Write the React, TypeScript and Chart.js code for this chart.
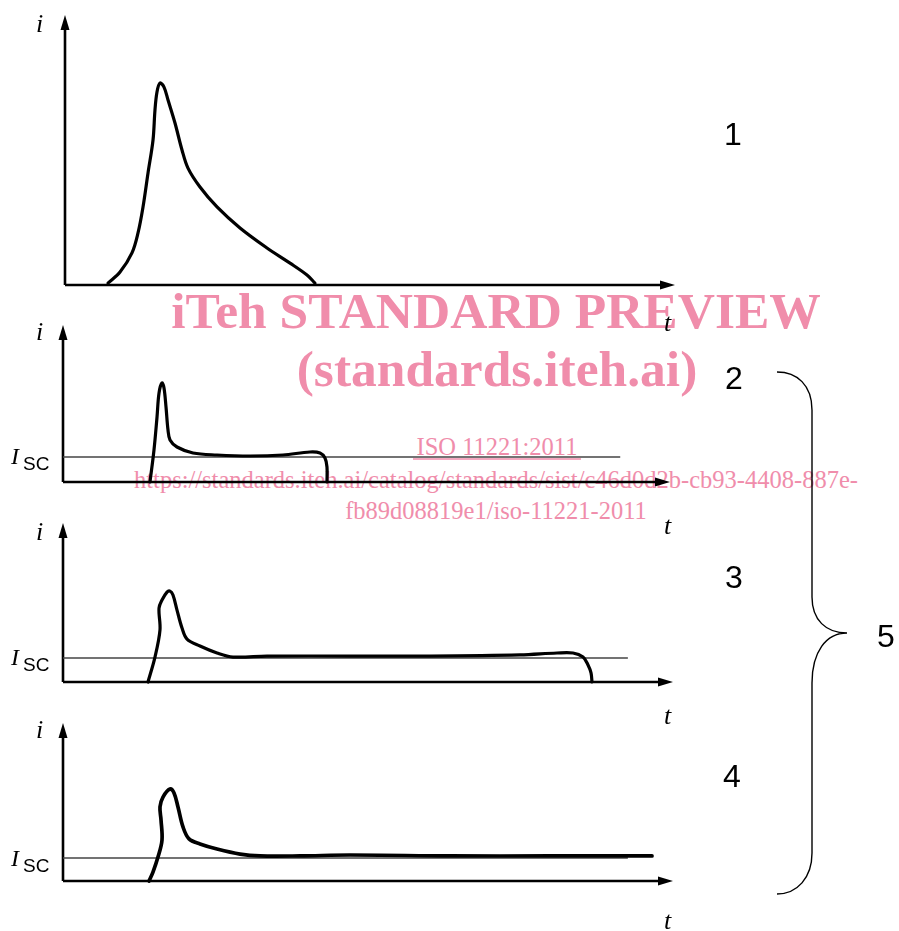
import React, { useEffect, useRef } from "react";
import { Chart, registerables } from "chart.js";

Chart.register(...registerables);

// ---------- data (t in % of axis length, i in arbitrary units / multiples of I_SC) ----------
const P1_T = [7.05, 9.02, 10.98, 11.97, 12.79, 13.61, 14.43, 14.75, 15.08, 15.57, 16.23, 16.89, 18.03, 19.18, 20.16, 22.13, 24.92, 28.69, 33.11, 36.89, 39.67, 40.98];
const P1_I = [0.7, 4.8, 11.9, 19.3, 28.9, 41.5, 53.7, 64.8, 71.5, 74.8, 73.3, 68.5, 60.0, 50.0, 43.3, 36.3, 28.9, 21.1, 13.7, 8.1, 3.7, 0.7];

const P2_T = [14.33, 14.99, 15.49, 15.82, 16.31, 16.64, 16.97, 17.3, 17.63, 18.78, 21.42, 25.37, 30.81, 36.24, 40.69, 42.34, 43.16, 43.49, 43.49];
const P2_I = [0, 1.28, 2.6, 3.56, 3.96, 3.76, 3.0, 2.08, 1.68, 1.4, 1.16, 1.08, 1.04, 1.08, 1.2, 1.16, 0.96, 0.6, 0];

const P3_T = [13.93, 15.08, 15.9, 15.74, 16.23, 17.05, 17.54, 18.03, 18.69, 19.51, 20.33, 22.46, 25.25, 27.87, 33.44, 47.05, 60.16, 74.92, 80.98, 83.61, 85.25, 86.07, 86.56, 86.72];
const P3_I = [0, 1.04, 2.17, 3.08, 3.42, 3.75, 3.79, 3.63, 3.0, 2.25, 1.79, 1.5, 1.21, 1.04, 1.08, 1.08, 1.08, 1.13, 1.21, 1.21, 1.04, 0.71, 0.38, 0];

const P4_T = [14.1, 14.75, 15.57, 16.23, 16.07, 15.9, 16.39, 17.54, 18.2, 18.85, 19.67, 20.66, 22.46, 25.25, 29.02, 32.3, 38.85, 47.05, 63.44, 79.84, 96.56];
const P4_I = [0, 0.39, 1.04, 1.78, 2.65, 3.22, 3.65, 4.0, 3.83, 3.22, 2.35, 1.83, 1.61, 1.39, 1.17, 1.09, 1.09, 1.13, 1.09, 1.09, 1.09];

const ISC_T = [0, 91.8, 92.6, 92.6]; // end of I_SC reference line for panels 2,3,4 (index 1..3)
const I_MAX = [100, 6.28, 6.63, 6.87]; // top of i-axis per panel
const CURVE_WIDTH = [3.2, 3.2, 3.2, 3.7];

const PANEL_LABELS = ["1", "2", "3", "4"];
const BRACE_LABEL = "5";
const WM_TITLE = "iTeh STANDARD PREVIEW";
const WM_SUB = "(standards.iteh.ai)";
const WM_ISO = "ISO 11221:2011";
const WM_URL1 = "https://standards.iteh.ai/catalog/standards/sist/c46d0d2b-cb93-4408-887e-";
const WM_URL2 = "fb89d08819e1/iso-11221-2011";

// ---------- layout ----------
const W = 899;
const H = 931;
const AREAS = [
  { left: 65, right: 675, top: 15, bottom: 285 },
  { left: 63, right: 670, top: 325, bottom: 482 },
  { left: 63, right: 673, top: 523, bottom: 682 },
  { left: 63, right: 673, top: 723, bottom: 881 },
];

const PINK = "rgb(240,141,171)";
const SERIF = "'Liberation Serif', 'Times New Roman', serif";
const SANS = "'Liberation Sans', Arial, sans-serif";

const axesPlugin = {
  id: "arrowAxes",
  beforeDatasetsDraw(chart: any) {
    const { ctx, chartArea } = chart;
    const { left, right, top, bottom } = chartArea;
    ctx.save();
    ctx.strokeStyle = "#000";
    ctx.fillStyle = "#000";
    ctx.lineWidth = 2.6;
    ctx.beginPath();
    ctx.moveTo(left, bottom);
    ctx.lineTo(right - 8, bottom);
    ctx.moveTo(left, bottom);
    ctx.lineTo(left, top + 8);
    ctx.stroke();
    // x arrow
    ctx.beginPath();
    ctx.moveTo(right, bottom);
    ctx.lineTo(right - 15, bottom - 4.5);
    ctx.lineTo(right - 15, bottom + 4.5);
    ctx.closePath();
    ctx.fill();
    // y arrow
    ctx.beginPath();
    ctx.moveTo(left, top);
    ctx.lineTo(left - 4.5, top + 15);
    ctx.lineTo(left + 4.5, top + 15);
    ctx.closePath();
    ctx.fill();
    ctx.restore();
  },
};

function pts(ts: number[], is: number[]) {
  return ts.map((t, k) => ({ x: t, y: is[k] }));
}

function Panel({ idx }: { idx: number }) {
  const ref = useRef<HTMLCanvasElement | null>(null);
  useEffect(() => {
    const canvas = ref.current;
    if (!canvas) return;
    const a = AREAS[idx];
    const series = [
      [P1_T, P1_I],
      [P2_T, P2_I],
      [P3_T, P3_I],
      [P4_T, P4_I],
    ][idx];
    const datasets: any[] = [
      {
        data: pts(series[0], series[1]),
        showLine: true,
        borderColor: "#000",
        borderWidth: CURVE_WIDTH[idx],
        pointRadius: 0,
        tension: 0.35,
        fill: false,
        clip: false,
        borderCapStyle: "round",
        borderJoinStyle: "round",
      },
    ];
    if (idx > 0) {
      datasets.push({
        data: pts([0, ISC_T[idx]], [1, 1]),
        showLine: true,
        borderColor: "#444",
        borderWidth: 1.5,
        pointRadius: 0,
        tension: 0,
        fill: false,
        clip: false,
      });
    }
    const chart = new Chart(canvas, {
      type: "scatter",
      data: { datasets },
      options: {
        animation: false,
        responsive: false,
        events: [],
        layout: {
          padding: { left: a.left, right: W - a.right, top: a.top, bottom: H - a.bottom },
        },
        scales: {
          x: { type: "linear", min: 0, max: 100, display: false },
          y: { type: "linear", min: 0, max: I_MAX[idx], display: false },
        },
        plugins: { legend: { display: false }, tooltip: { enabled: false }, title: { display: false } },
      },
      plugins: [axesPlugin],
    } as any);
    return () => chart.destroy();
  }, [idx]);
  return (
    <canvas
      ref={ref}
      width={W}
      height={H}
      style={{ position: "absolute", left: 0, top: 0, width: W, height: H }}
    />
  );
}

export default function App() {
  const iBase = [32, 340, 540, 738];
  const tBase = [331, 534, 724, 929];
  const iscBase = [0, 464, 665, 866];
  const numPos = [
    [733, 145],
    [734, 389],
    [734, 588],
    [732, 787],
  ];
  return (
    <div style={{ position: "absolute", left: 0, top: 0, width: W, height: H, background: "#fff", overflow: "hidden" }}>
      <svg width={W} height={H} style={{ position: "absolute", left: 0, top: 0 }}>
        <g fill={PINK} fontFamily={SERIF} textAnchor="middle">
          <text x={496} y={328} fontSize={51.5} fontWeight="bold">{WM_TITLE}</text>
          <text x={497} y={386} fontSize={51.5} fontWeight="bold">{WM_SUB}</text>
          <text x={497} y={455} fontSize={24.5}>{WM_ISO}</text>
          <text x={496} y={488} fontSize={24.5}>{WM_URL1}</text>
          <text x={496} y={519} fontSize={24.5}>{WM_URL2}</text>
        </g>
        <line x1={413} y1={459} x2={581} y2={459} stroke={PINK} strokeWidth={1.5} />
      </svg>
      {[0, 1, 2, 3].map((k) => (
        <Panel key={k} idx={k} />
      ))}
      <svg width={W} height={H} style={{ position: "absolute", left: 0, top: 0, pointerEvents: "none" }}>
        {iBase.map((b, k) => (
          <text key={"i" + k} x={36} y={b} fontFamily={SERIF} fontStyle="italic" fontSize={26}>
            i
          </text>
        ))}
        {tBase.map((b, k) => (
          <text key={"t" + k} x={664} y={b} fontFamily={SERIF} fontStyle="italic" fontSize={26}>
            t
          </text>
        ))}
        {iscBase.map((b, k) =>
          k === 0 ? null : (
            <g key={"isc" + k}>
              <text x={11} y={b} fontFamily={SERIF} fontStyle="italic" fontSize={24}>
                I
              </text>
              <text x={23} y={b + 6} fontFamily={SANS} fontSize={19}>
                SC
              </text>
            </g>
          )
        )}
        {numPos.map((p, k) => (
          <text key={"n" + k} x={p[0]} y={p[1]} fontFamily={SANS} fontSize={32} textAnchor="middle">
            {PANEL_LABELS[k]}
          </text>
        ))}
        <text x={886} y={647} fontFamily={SANS} fontSize={32} textAnchor="middle">
          {BRACE_LABEL}
        </text>
        <path
          d="M777,372 C797,372 812,385 812,410 L812,597 C812,620 826,633 847,633 C826,633 812,652 812,683 L812,853 C812,878 797,894 777,894"
          fill="none"
          stroke="#000"
          strokeWidth={1.4}
        />
      </svg>
    </div>
  );
}
